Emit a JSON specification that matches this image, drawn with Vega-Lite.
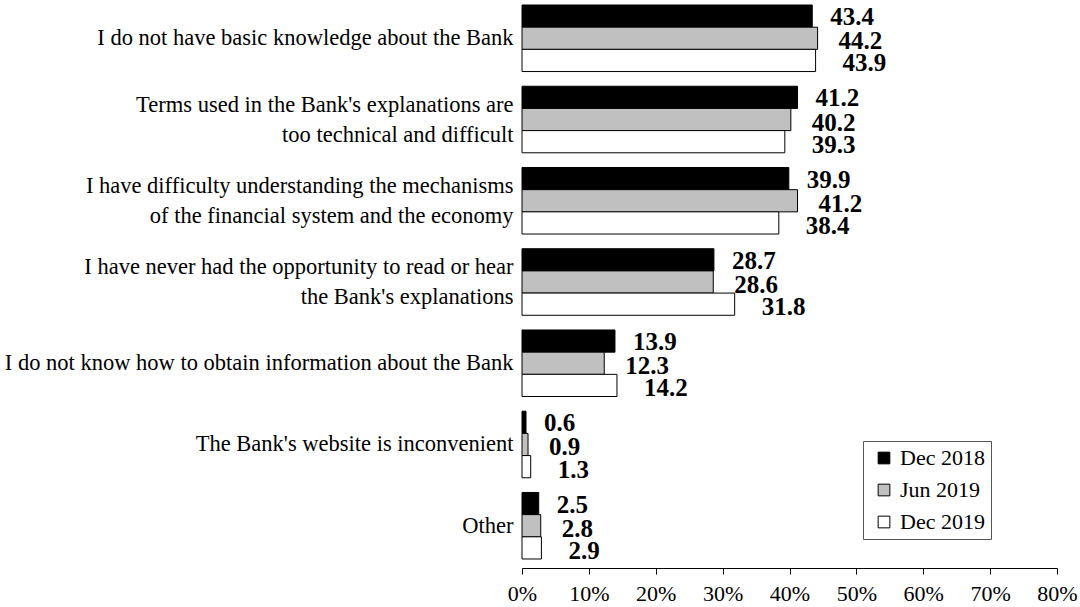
{
  "$schema": "https://vega.github.io/schema/vega-lite/v6.json",
  "width": 535,
  "height": 564,
  "autosize": {"type": "none"},
  "padding": {"left": 522, "top": 0, "right": 23, "bottom": 43},
  "background": "white",
  "config": {"view": {"stroke": null}, "font": "Liberation Serif"},
  "data": {
    "values": [
      {"cat": "I do not have basic knowledge about the Bank", "series": "Dec 2018", "value": 43.4},
      {"cat": "I do not have basic knowledge about the Bank", "series": "Jun 2019", "value": 44.2},
      {"cat": "I do not have basic knowledge about the Bank", "series": "Dec 2019", "value": 43.9},
      {"cat": "Terms used in the Bank's explanations are|too technical and difficult", "series": "Dec 2018", "value": 41.2},
      {"cat": "Terms used in the Bank's explanations are|too technical and difficult", "series": "Jun 2019", "value": 40.2},
      {"cat": "Terms used in the Bank's explanations are|too technical and difficult", "series": "Dec 2019", "value": 39.3},
      {"cat": "I have difficulty understanding the mechanisms|of the financial system and the economy", "series": "Dec 2018", "value": 39.9},
      {"cat": "I have difficulty understanding the mechanisms|of the financial system and the economy", "series": "Jun 2019", "value": 41.2},
      {"cat": "I have difficulty understanding the mechanisms|of the financial system and the economy", "series": "Dec 2019", "value": 38.4},
      {"cat": "I have never had the opportunity to read or hear|the Bank's explanations", "series": "Dec 2018", "value": 28.7},
      {"cat": "I have never had the opportunity to read or hear|the Bank's explanations", "series": "Jun 2019", "value": 28.6},
      {"cat": "I have never had the opportunity to read or hear|the Bank's explanations", "series": "Dec 2019", "value": 31.8},
      {"cat": "I do not know how to obtain information about the Bank", "series": "Dec 2018", "value": 13.9},
      {"cat": "I do not know how to obtain information about the Bank", "series": "Jun 2019", "value": 12.3},
      {"cat": "I do not know how to obtain information about the Bank", "series": "Dec 2019", "value": 14.2},
      {"cat": "The Bank's website is inconvenient", "series": "Dec 2018", "value": 0.6},
      {"cat": "The Bank's website is inconvenient", "series": "Jun 2019", "value": 0.9},
      {"cat": "The Bank's website is inconvenient", "series": "Dec 2019", "value": 1.3},
      {"cat": "Other", "series": "Dec 2018", "value": 2.5},
      {"cat": "Other", "series": "Jun 2019", "value": 2.8},
      {"cat": "Other", "series": "Dec 2019", "value": 2.9}
    ]
  },
  "encoding": {
    "y": {
      "field": "cat",
      "type": "nominal",
      "sort": null,
      "scale": {"paddingInner": 0.181, "paddingOuter": 0.0616},
      "axis": {
        "title": null,
        "domain": false,
        "ticks": false,
        "labelPadding": 9,
        "labelFont": "Liberation Serif",
        "labelFontSize": 22.5,
        "labelColor": "black",
        "labelLimit": 600,
        "labelLineHeight": 30,
        "labelOffset": {"condition": {"test": "indexof(datum.value, '|') >= 0", "value": -15}, "value": 0},
        "labelExpr": "split(datum.label, '|')"
      }
    },
    "yOffset": {
      "field": "series",
      "type": "nominal",
      "sort": ["Dec 2018", "Jun 2019", "Dec 2019"],
      "scale": {"paddingInner": 0, "paddingOuter": 0}
    },
    "x": {
      "field": "value",
      "type": "quantitative",
      "scale": {"domain": [0, 80], "nice": false},
      "axis": {
        "title": null,
        "grid": false,
        "offset": 4,
        "values": [0, 10, 20, 30, 40, 50, 60, 70, 80],
        "labelExpr": "datum.value + '%'",
        "labelFlush": false,
        "domainColor": "black",
        "tickColor": "black",
        "tickSize": 6,
        "labelPadding": 9,
        "labelFont": "Liberation Serif",
        "labelFontSize": 22,
        "labelColor": "black"
      }
    }
  },
  "layer": [
    {
      "mark": {"type": "bar", "stroke": "black", "strokeWidth": 1},
      "encoding": {
        "fill": {
          "field": "series",
          "type": "nominal",
          "sort": ["Dec 2018", "Jun 2019", "Dec 2019"],
          "scale": {"domain": ["Dec 2018", "Jun 2019", "Dec 2019"], "range": ["#000000", "#c0c0c0", "#ffffff"]},
          "legend": {
            "title": null,
            "orient": "none",
            "legendX": 341,
            "legendY": 441,
            "strokeColor": "#555555",
            "padding": 6,
            "symbolOffset": 4,
            "symbolType": "square",
            "symbolSize": 137,
            "symbolStrokeColor": "black",
            "symbolStrokeWidth": 1,
            "labelFont": "Liberation Serif",
            "labelFontSize": 22,
            "labelColor": "black",
            "rowPadding": 10,
            "labelOffset": 5
          }
        }
      }
    },
    {
      "transform": [{"filter": "datum.series === 'Dec 2018'"}],
      "mark": {"type": "text", "align": "left", "baseline": "middle", "dx": 18, "dy": 1, "fontWeight": "bold", "fontSize": 25, "font": "Liberation Serif", "color": "black"},
      "encoding": {
        "text": {"field": "value", "type": "quantitative", "format": ".1f"}
      }
    },
    {
      "transform": [{"filter": "datum.series === 'Jun 2019'"}],
      "mark": {"type": "text", "align": "left", "baseline": "middle", "dx": 21, "dy": 3, "fontWeight": "bold", "fontSize": 25, "font": "Liberation Serif", "color": "black"},
      "encoding": {
        "text": {"field": "value", "type": "quantitative", "format": ".1f"}
      }
    },
    {
      "transform": [{"filter": "datum.series === 'Dec 2019'"}],
      "mark": {"type": "text", "align": "left", "baseline": "middle", "dx": 27, "dy": 3, "fontWeight": "bold", "fontSize": 25, "font": "Liberation Serif", "color": "black"},
      "encoding": {
        "text": {"field": "value", "type": "quantitative", "format": ".1f"}
      }
    }
  ]
}
